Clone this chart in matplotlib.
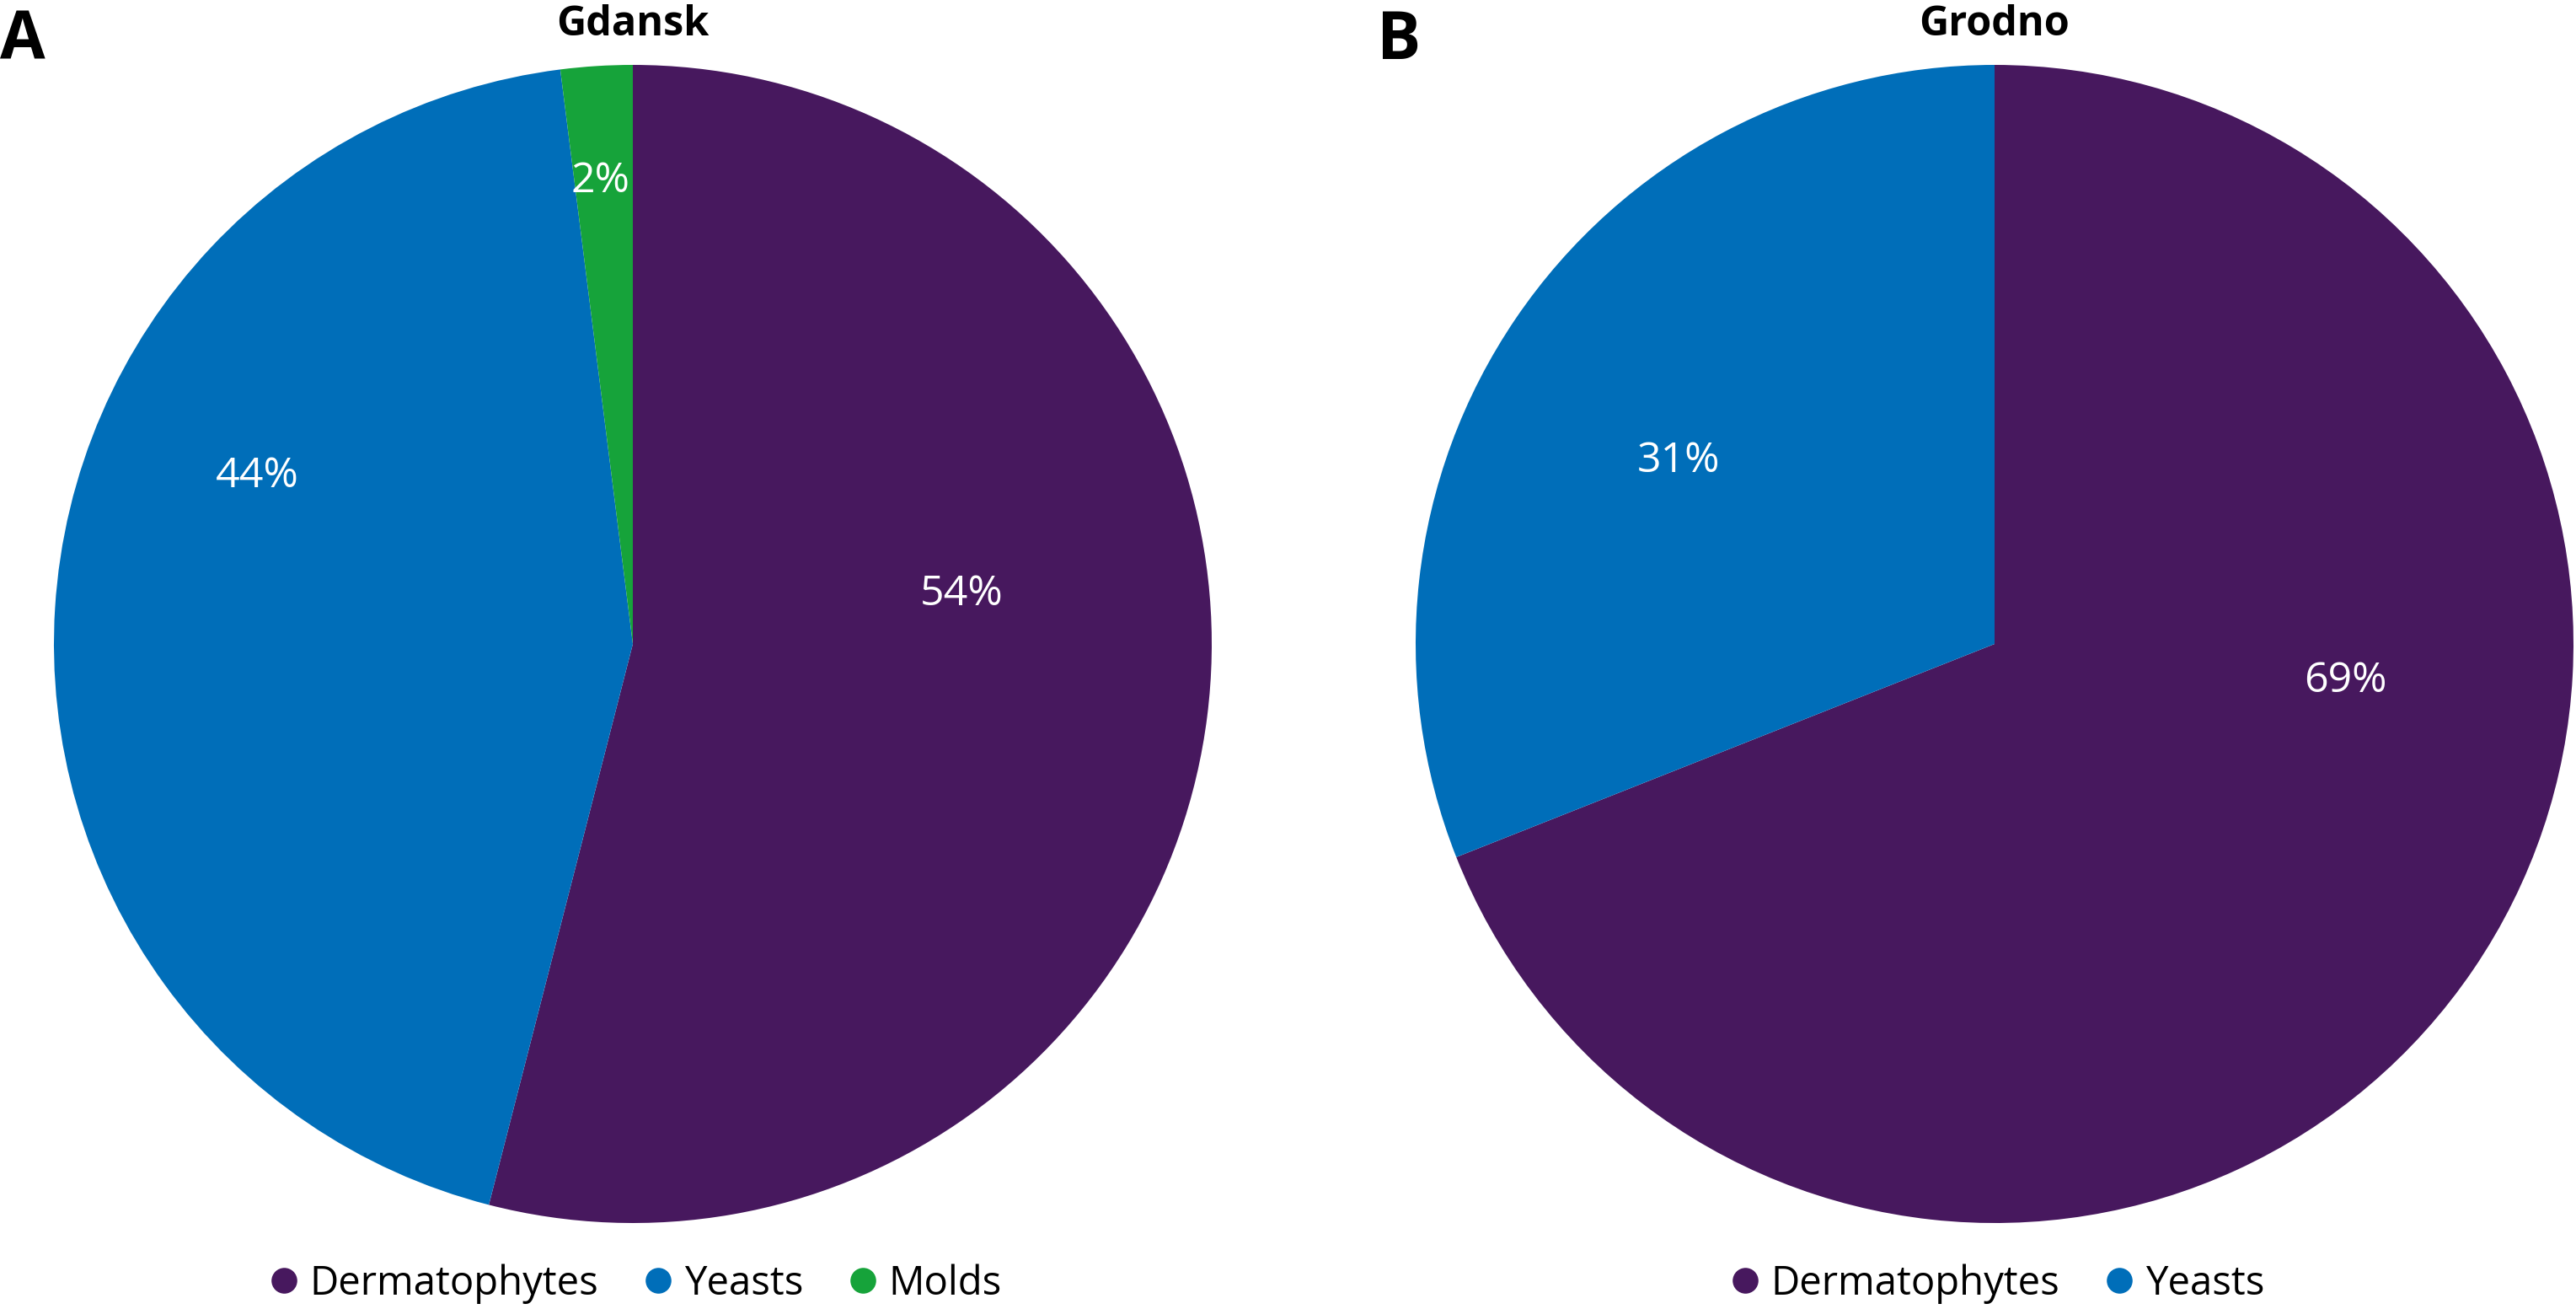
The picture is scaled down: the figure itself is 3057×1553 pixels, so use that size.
import matplotlib
matplotlib.use('Agg')
import matplotlib.pyplot as plt
from matplotlib.lines import Line2D
import numpy as np

plt.rcParams['font.family'] = ['Open Sans', 'DejaVu Sans']

# data
cities = ['Gdansk', 'Grodno']
panel_letters = ['A', 'B']
gdansk_labels = ['Dermatophytes', 'Yeasts', 'Molds']
gdansk_values = [54, 44, 2]
grodno_labels = ['Dermatophytes', 'Yeasts']
grodno_values = [69, 31]

colors = {'Dermatophytes': '#47185e', 'Yeasts': '#006eb9', 'Molds': '#16a33a'}

# layout: where the percentage labels sit (angle in degrees, fraction of radius)
label_spots = [[(8.5, 0.575), (156, 0.71), (94, 0.80)],
               [(-6, 0.61), (150, 0.63)]]

W, H = 3057, 1553
fig = plt.figure(figsize=(W / 100, H / 100), dpi=100)

# pie centres / radius in pixels
r = 687
centres = [(751, 764), (2367, 764)]
panels = [(gdansk_labels, gdansk_values), (grodno_labels, grodno_values)]
letter_x = [0, 1634]

for i, (labels, values) in enumerate(panels):
    cx, cy = centres[i]
    ax = fig.add_axes([(cx - r) / W, (H - cy - r) / H, 2 * r / W, 2 * r / H])
    wedges, texts, autotexts = ax.pie(
        values, colors=[colors[l] for l in labels], startangle=90,
        counterclock=False, autopct='%d%%', pctdistance=0.62,
        wedgeprops=dict(linewidth=0),
        textprops=dict(color='white', fontsize=36))
    for t, (ang, d) in zip(autotexts, label_spots[i]):
        a = np.deg2rad(ang)
        t.set_position((d * np.cos(a), d * np.sin(a)))
    ax.set_xlim(-1, 1)
    ax.set_ylim(-1, 1)
    ax.set_aspect('equal')
    ax.axis('off')

    fig.text(cx / W, 1 - 42 / H, cities[i], ha='center', va='baseline',
             fontsize=35, fontweight='bold')
    fig.text(letter_x[i] / W, 1 - 70 / H, panel_letters[i], ha='left', va='baseline',
             fontsize=56, fontweight='bold')

    handles = [Line2D([], [], marker='o', linestyle='none', markersize=22,
                      markerfacecolor=colors[l], markeredgewidth=0) for l in labels]
    fig.legend(handles, labels, loc='center', bbox_to_anchor=(cx / W, 30 / H),
               ncol=len(labels), frameon=False, fontsize=34,
               handletextpad=0.15, columnspacing=1.0, handlelength=1.0,
               borderaxespad=0)

fig.savefig('out.png', dpi=100)
